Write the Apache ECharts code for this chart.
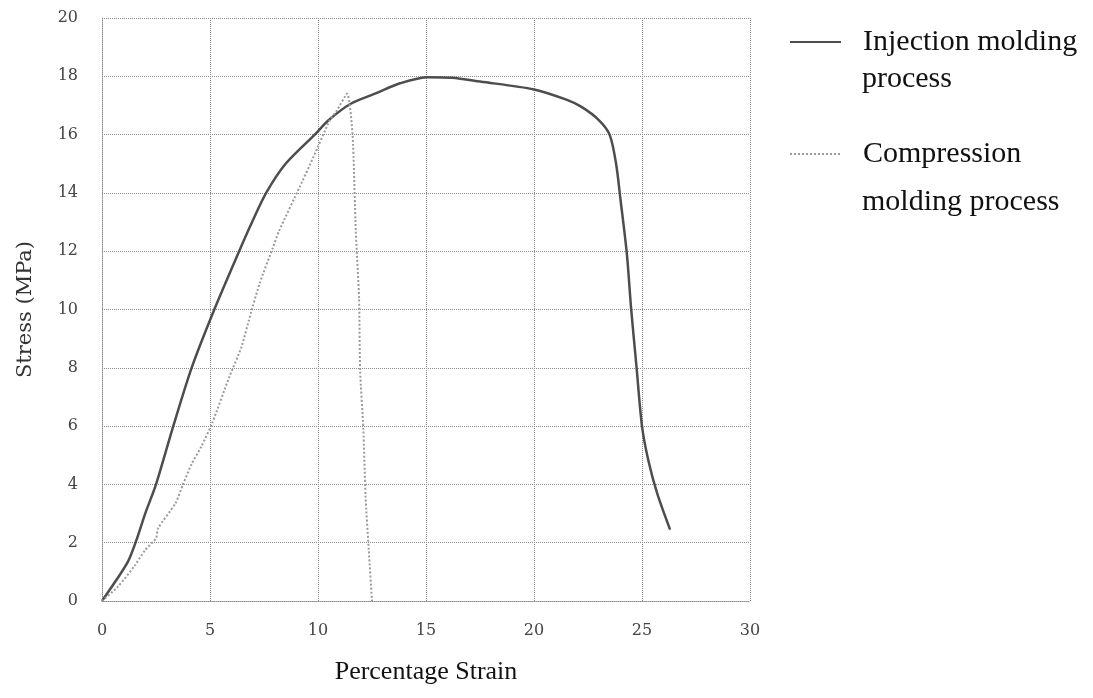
<!DOCTYPE html>
<html>
<head>
<meta charset="utf-8">
<script src="https://cdn.jsdelivr.net/npm/echarts@6/dist/echarts.min.js"></script>
<style>
  html, body { margin: 0; padding: 0; background: #fff; }
  #chart { width: 1093px; height: 698px; }
</style>
</head>
<body>
<div id="chart"></div>
<script>
// injection molding curve (strain %, stress MPa)
var injStrain = [0, 0.6, 1.2, 1.6, 2.0, 2.5, 3.3, 4.15, 5.2, 6.35, 6.95, 7.6, 8.5, 9.85, 10.5, 11.5, 12.7, 13.8, 15.1, 16.2, 17.5, 20.0, 21.5, 22.2, 23.0, 23.5, 23.8, 24.0, 24.3, 24.5, 24.75, 25.0, 25.3, 25.7, 26.3];
var injStress = [0, 0.65, 1.35, 2.1, 3.0, 4.0, 6.0, 8.0, 10.0, 12.0, 13.0, 14.0, 15.0, 16.0, 16.5, 17.05, 17.42, 17.76, 17.97, 17.95, 17.82, 17.55, 17.2, 16.95, 16.5, 16.0, 15.0, 13.8, 11.9, 10.0, 8.0, 6.0, 4.8, 3.7, 2.45];
// compression molding curve
var compStrain = [0, 0.75, 1.5, 2.0, 2.5, 2.6, 3.4, 3.75, 4.15, 4.6, 5.1, 5.9, 6.45, 6.9, 7.3, 7.9, 8.2, 9.15, 9.8, 10.55, 10.85, 11.35, 11.6, 11.75, 11.9, 11.95, 12.1, 12.2, 12.35, 12.5];
var compStress = [0, 0.5, 1.2, 1.75, 2.15, 2.5, 3.35, 4.0, 4.7, 5.3, 6.1, 7.7, 8.7, 9.9, 10.9, 12.1, 12.7, 14.2, 15.25, 16.5, 16.8, 17.4, 16.0, 12.7, 10.4, 7.9, 5.9, 3.6, 1.75, 0];

var seriesNames = ['Injection molding process', 'Compression molding process'];
var legendFirst = ['Injection molding', 'Compression'];
var legendSecond = ['process', 'molding process'];

function zip(xs, ys) {
  var out = [];
  for (var i = 0; i < xs.length; i++) out.push([xs[i], ys[i]]);
  return out;
}

var chart = echarts.init(document.getElementById('chart'));

var gridLine = { show: true, lineStyle: { color: '#8a8a8a', type: 'dotted', width: 1 } };
var tickFont = { fontFamily: 'DejaVu Serif', fontSize: 16, color: '#444' };

var legendText = {
  fontFamily: 'Liberation Serif',
  fontSize: 30,
  color: '#111',
  padding: [0, 0, 0, 17]
};

var option = {
  animation: false,
  backgroundColor: '#fff',
  grid: { left: 102, right: 343, top: 18, bottom: 97 },
  xAxis: {
    type: 'value',
    min: 0, max: 30, interval: 5,
    name: 'Percentage Strain',
    nameLocation: 'middle',
    nameGap: 58,
    nameTextStyle: { fontFamily: 'Liberation Serif', fontSize: 26, color: '#111' },
    axisLine: { lineStyle: { color: '#8a8a8a', type: 'dotted' } },
    axisTick: { show: false },
    axisLabel: Object.assign({ margin: 22 }, tickFont),
    splitLine: gridLine
  },
  yAxis: {
    type: 'value',
    min: 0, max: 20, interval: 2,
    name: 'Stress (MPa)',
    nameLocation: 'middle',
    nameGap: 66,
    nameTextStyle: { fontFamily: 'DejaVu Serif', fontSize: 21, color: '#333' },
    axisLine: { show: true, lineStyle: { color: '#8a8a8a', type: 'dotted' } },
    axisTick: { show: false },
    axisLabel: Object.assign({ margin: 24 }, tickFont),
    splitLine: gridLine
  },
  legend: [
    {
      data: [seriesNames[0]],
      left: 789, top: 27, padding: 0,
      itemWidth: 51, itemHeight: 10,
      itemStyle: { opacity: 0 },
      formatter: function () { return legendFirst[0]; },
      textStyle: legendText
    },
    {
      data: [seriesNames[1]],
      left: 789, top: 139, padding: 0,
      itemWidth: 51, itemHeight: 10,
      itemStyle: { opacity: 0 },
      formatter: function () { return legendFirst[1]; },
      textStyle: legendText
    }
  ],
  graphic: [
    {
      type: 'text', left: 862, top: 64,
      style: { text: legendSecond[0], font: '30px "Liberation Serif"', fill: '#111' }
    },
    {
      type: 'text', left: 862, top: 187,
      style: { text: legendSecond[1], font: '30px "Liberation Serif"', fill: '#111' }
    }
  ],
  series: [
    {
      name: seriesNames[0],
      type: 'line',
      data: zip(injStrain, injStress),
      smooth: 0.3,
      showSymbol: false,
      symbol: 'none',
      lineStyle: { color: '#4d4d4d', width: 2.5 },
      itemStyle: { color: '#4d4d4d' }
    },
    {
      name: seriesNames[1],
      type: 'line',
      data: zip(compStrain, compStress),
      smooth: 0.2,
      showSymbol: false,
      symbol: 'none',
      lineStyle: { color: '#9a9a9a', width: 2, type: 'dotted' },
      itemStyle: { color: '#9a9a9a' }
    }
  ]
};

chart.setOption(option);
</script>
</body>
</html>
